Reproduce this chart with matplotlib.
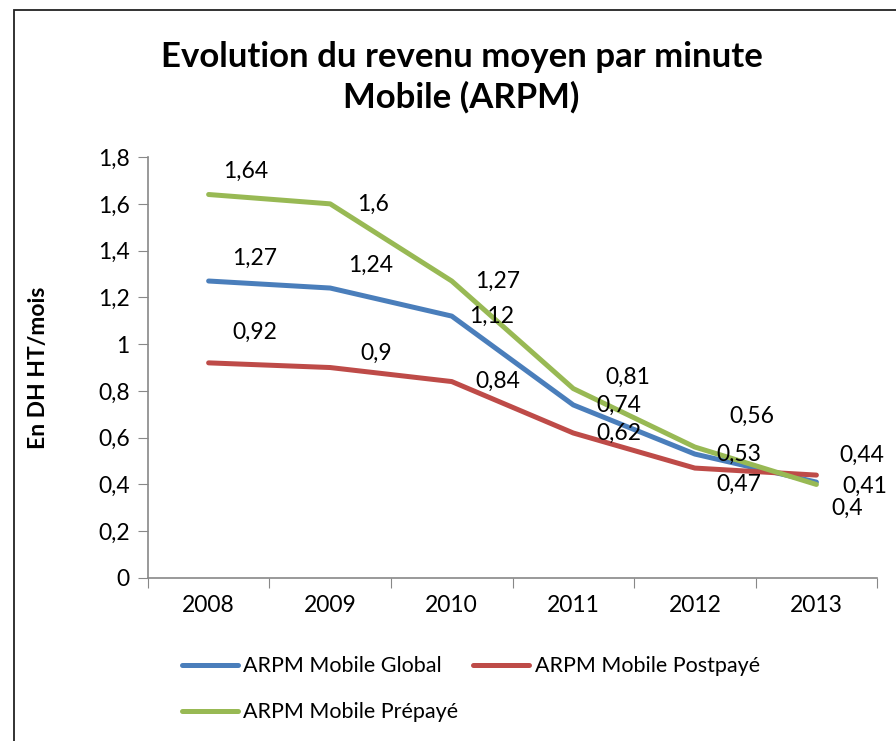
import matplotlib.pyplot as plt
from matplotlib.patches import Rectangle

annees = ["2008", "2009", "2010", "2011", "2012", "2013"]
arpm_global = [1.27, 1.24, 1.12, 0.74, 0.53, 0.41]
arpm_postpaye = [0.92, 0.9, 0.84, 0.62, 0.47, 0.44]
arpm_prepaye = [1.64, 1.6, 1.27, 0.81, 0.56, 0.4]
y_ticks = [0, 0.2, 0.4, 0.6, 0.8, 1, 1.2, 1.4, 1.6, 1.8]

# decalage des etiquettes (en points) comme dans Excel
off_global = [(33, 16), (29, 16), (29, 0), (33, 0), (32, 0), (35, -3)]
off_postpaye = [(33, 22), (33, 10), (33, 0), (33, 0), (32, -12), (33, 14)]
off_prepaye = [(27, 17), (31, 0), (33, 0), (39, 8), (41, 22), (22, -17)]

plt.rcParams['font.family'] = ['Lato', 'DejaVu Sans']

fig = plt.figure(figsize=(8.96, 7.41), dpi=100)
ax = fig.add_axes([0.165, 0.22, 0.814, 0.568])

# cadre noir autour du graphique
fig.patches.append(Rectangle((14 / 896, -0.1), 1.2, 1 - 10 / 741 + 0.1,
                             transform=fig.transFigure, fill=False,
                             edgecolor='#222222', linewidth=1.3))

x = list(range(len(annees)))
series = [
    (arpm_global, '#4a7ebb', 'ARPM Mobile Global', off_global),
    (arpm_postpaye, '#be4b48', 'ARPM Mobile Postpayé', off_postpaye),
    (arpm_prepaye, '#98b954', 'ARPM Mobile Prépayé', off_prepaye),
]
lignes = []
for vals, col, nom, offs in series:
    l, = ax.plot(x, vals, color=col, linewidth=3.6, label=nom, solid_capstyle='round')
    lignes.append(l)
    for xi, v, off in zip(x, vals, offs):
        ax.annotate(str(v).replace('.', ','), (xi, v), xytext=off,
                    textcoords='offset points', ha='center', va='center',
                    fontsize=16.5, color='black')

ax.set_xlim(-0.5, len(annees) - 0.5)
ax.set_ylim(0, 1.8)
ax.set_yticks(y_ticks)
ax.set_yticklabels([("%g" % t).replace('.', ',') for t in y_ticks], fontsize=16.5)
ax.set_xticks([i - 0.5 for i in range(len(annees) + 1)])
ax.set_xticklabels([])
ax.set_xticks(x, minor=True)
ax.set_xticklabels(annees, minor=True, fontsize=16.5)
ax.tick_params(axis='x', which='major', length=7, color='#888888')
ax.tick_params(axis='x', which='minor', length=0, pad=12)
ax.tick_params(axis='y', length=7, color='#888888', pad=6)

for s in ['top', 'right']:
    ax.spines[s].set_visible(False)
for s in ['left', 'bottom']:
    ax.spines[s].set_color('#888888')
    ax.spines[s].set_linewidth(1.2)

ax.set_ylabel('En DH HT/mois', fontsize=16.5, fontweight='bold')
ax.yaxis.set_label_coords(-0.135, 0.5)

fig.text(0.515, 0.896, 'Evolution du revenu moyen par minute\nMobile (ARPM)',
         ha='center', va='center', fontsize=25, fontweight='bold',
         linespacing=1.3)

# ordre pour remplir les lignes comme Excel
ordre = [lignes[0], lignes[2], lignes[1]]
ax.legend(ordre, [l.get_label() for l in ordre], loc='upper left',
          bbox_to_anchor=(0.02, -0.14), ncol=2, frameon=False,
          fontsize=15.5, handlelength=2.6, handletextpad=0.25,
          columnspacing=0.7, labelspacing=1.2)

fig.savefig('out.png', dpi=100)
